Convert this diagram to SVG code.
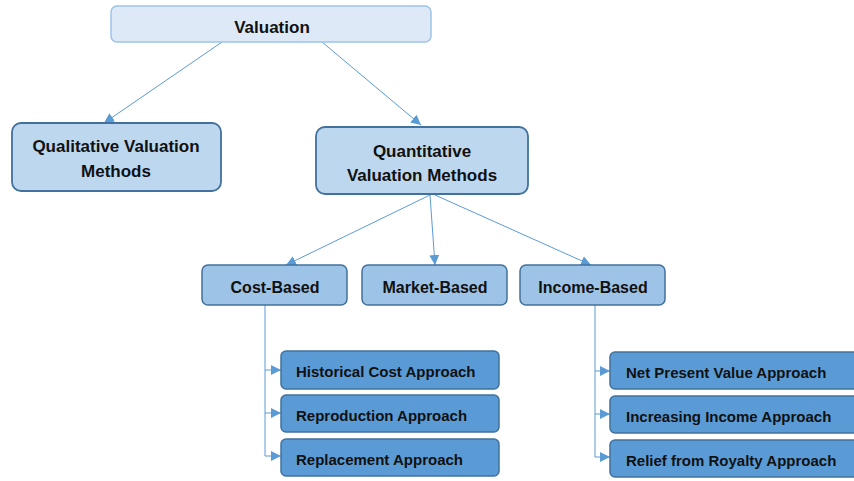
<svg xmlns="http://www.w3.org/2000/svg" width="854" height="481" viewBox="0 0 854 481">
<style>
text{font-family:"Liberation Sans",Arial,sans-serif;font-weight:bold;fill:#111;text-anchor:middle}
.top{fill:#dde9f6;stroke:#9dc3e6;stroke-width:1.5}
.l1{fill:#bdd7ee;stroke:#41719c;stroke-width:1.8}
.l2{fill:#9dc3e6;stroke:#41719c;stroke-width:1.5}
.l3{fill:#5b9bd5;stroke:#41719c;stroke-width:1.5}
.c{stroke:#5b9bd5;stroke-width:1;fill:none}
.ca{stroke:#5b9bd5;stroke-width:1;fill:none;marker-end:url(#ah)}
.t17{font-size:17px}
.t16{font-size:16px}
.t15{font-size:15px;text-anchor:start}
</style>
<defs>
<marker id="ah" viewBox="0 0 10 10" refX="10" refY="5" markerWidth="10" markerHeight="10" markerUnits="userSpaceOnUse" orient="auto">
<path d="M0,0 L10,5 L0,10 z" fill="#5b9bd5"/>
</marker>
</defs>
<g id="connectors">
<line class="ca" x1="222" y1="42" x2="104" y2="123"/>
<line class="ca" x1="322" y1="42" x2="421" y2="125"/>
<line class="ca" x1="430" y1="195" x2="286" y2="265"/>
<line class="ca" x1="430" y1="195" x2="435" y2="265"/>
<line class="ca" x1="435" y1="195" x2="591" y2="265"/>
<path class="c" d="M265,305 V456"/>
<line class="ca" x1="265" y1="370" x2="281" y2="370"/>
<line class="ca" x1="265" y1="413" x2="281" y2="413"/>
<line class="ca" x1="265" y1="456" x2="281" y2="456"/>
<path class="c" d="M595,305 V457"/>
<line class="ca" x1="595" y1="371" x2="610" y2="371"/>
<line class="ca" x1="595" y1="414" x2="610" y2="414"/>
<line class="ca" x1="595" y1="457" x2="610" y2="457"/>
</g>
<g id="valuation">
<rect class="top" x="111" y="6" width="320" height="36" rx="6"/>
<text class="t17" x="272" y="33">Valuation</text>
</g>
<g id="qualitative">
<rect class="l1" x="12" y="123" width="209" height="68" rx="9"/>
<text class="t17" x="116" y="152">Qualitative Valuation</text>
<text class="t17" x="116" y="177">Methods</text>
</g>
<g id="quantitative">
<rect class="l1" x="316" y="127" width="212" height="67" rx="9"/>
<text class="t17" x="422" y="157">Quantitative</text>
<text class="t17" x="422" y="181">Valuation Methods</text>
</g>
<g id="cost">
<rect class="l2" x="202" y="265" width="145" height="40" rx="6"/>
<text class="t16" x="275" y="293">Cost-Based</text>
</g>
<g id="market">
<rect class="l2" x="362" y="265" width="145" height="40" rx="6"/>
<text class="t16" x="435" y="293">Market-Based</text>
</g>
<g id="income">
<rect class="l2" x="520" y="265" width="145" height="40" rx="6"/>
<text class="t16" x="593" y="293">Income-Based</text>
</g>
<g id="historical">
<rect class="l3" x="281" y="351" width="218" height="38" rx="5"/>
<text class="t15" x="296" y="377">Historical Cost Approach</text>
</g>
<g id="reproduction">
<rect class="l3" x="281" y="395" width="218" height="37" rx="5"/>
<text class="t15" x="296" y="421">Reproduction Approach</text>
</g>
<g id="replacement">
<rect class="l3" x="281" y="439" width="218" height="37" rx="5"/>
<text class="t15" x="296" y="465">Replacement Approach</text>
</g>
<g id="npv">
<rect class="l3" x="610" y="352" width="250" height="37" rx="5"/>
<text class="t15" x="626" y="378">Net Present Value Approach</text>
</g>
<g id="increasing">
<rect class="l3" x="610" y="396" width="250" height="37" rx="5"/>
<text class="t15" x="626" y="422">Increasing Income Approach</text>
</g>
<g id="relief">
<rect class="l3" x="610" y="440" width="250" height="37" rx="5"/>
<text class="t15" x="626" y="466">Relief from Royalty Approach</text>
</g>
</svg>
